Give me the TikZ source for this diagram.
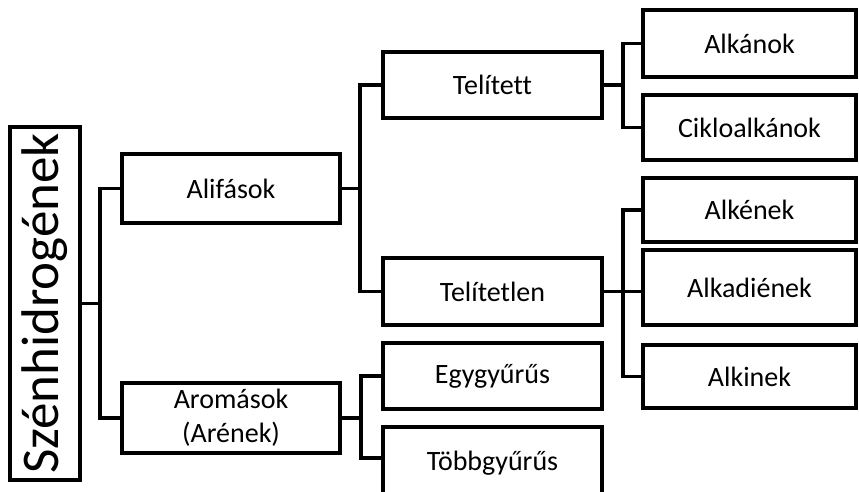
\documentclass[tikz,border=0pt]{standalone}
\usepackage{fontspec}
\setmainfont[Ligatures=NoCommon]{Carlito}
\begin{document}
\begin{tikzpicture}[x=1pt,y=-1pt,
  box/.style={draw=black, line width=3.5pt, inner sep=0pt, align=center,
    font=\fontsize{28}{31}\selectfont},
  conn/.style={draw=black, line width=3.5pt}]
\clip (0,0) rectangle (859,491);
\fill[white] (0,0) rectangle (859,491);
% root
\node[box, minimum width=70pt, minimum height=353pt] (root) at (45,303.5)
  {\rotatebox{90}{\fontsize{53}{60}\selectfont Szénhidrogének}};
% level 1
\node[box, minimum width=218pt, minimum height=69pt] (alif) at (231,188.5) {Alifások};
\node[box, minimum width=218pt, minimum height=70pt] (arom) at (231,418)
  {Aromások\\[3pt](Arének)};
% level 2
\node[box, minimum width=219pt, minimum height=66pt] (telt) at (492.5,85) {Telített};
\node[box, minimum width=219pt, minimum height=67pt] (tetl) at (492.5,291.5) {Telítetlen};
\node[box, minimum width=219pt, minimum height=66pt] (egy) at (492.5,376) {Egygyűrűs};
\node[box, minimum width=219pt, minimum height=72pt] (tobb) at (492.5,463) {\raisebox{5pt}{Többgyűrűs}};
% level 3
\node[box, minimum width=213pt, minimum height=67pt] (alkan) at (749.5,43.5) {Alkánok};
\node[box, minimum width=213pt, minimum height=65pt] (ciklo) at (749.5,127.5) {Cikloalkánok};
\node[box, minimum width=213pt, minimum height=64pt] (alken) at (749.5,210) {Alkének};
\node[box, minimum width=213pt, minimum height=75pt] (alkad) at (749.5,287.5) {Alkadiének};
\node[box, minimum width=213pt, minimum height=63pt] (alkin) at (749.5,376.5) {Alkinek};
% junctions
\coordinate (j0) at (100,303.5);
\coordinate (j1) at (360,188.5);
\coordinate (j2) at (361,418);
\coordinate (j3) at (623,85);
\coordinate (j4) at (623,291.5);
\coordinate (j2b) at (361,458);
% connectors
\draw[conn] (root.east) -- (j0);
\draw[conn] (alif.west) -| (j0) |- (arom.west);
\draw[conn] (alif.east) -- (j1);
\draw[conn] (telt.west) -| (j1) |- (tetl.west);
\draw[conn] (arom.east) -- (j2);
\draw[conn] (egy.west) -| (j2) -- (j2b) -- (j2b -| tobb.west);
\draw[conn] (telt.east) -- (j3);
\draw[conn] (alkan.west) -| (j3) |- (ciklo.west);
\draw[conn] (tetl.east) -- (j4);
\draw[conn] (alken.west) -| (j4) |- (alkin.west);
\draw[conn] (j4) -- (j4 -| alkad.west);
\end{tikzpicture}
\end{document}
